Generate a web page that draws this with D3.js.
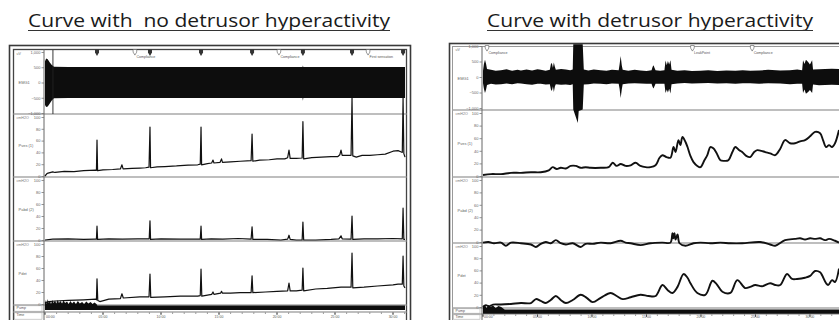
<!DOCTYPE html>
<html><head><meta charset="utf-8">
<script src="https://cdn.jsdelivr.net/npm/d3@7/dist/d3.min.js"></script>
<style>html,body{margin:0;padding:0;background:#fff}svg{display:block}</style>
</head><body>
<svg id="chart" width="839" height="320"></svg>
<script>
// ================= DATA =================
const titleLeft = "Curve with  no detrusor hyperactivity";
const titleRight = "Curve with detrusor hyperactivity";
const channelNames = ["EMG1", "Pves (1)", "Pabd (2)", "Pdet"];
const channelUnits = ["uV", "cmH2O", "cmH2O", "cmH2O"];
const extraRowNames = ["Pump", "Time"];
const emgTickValues = [1000, 500, 0, -500, -1000];
const pressureTickValues = [0, 20, 40, 60, 80, 100];
const timeTickValues = [0, 300, 600, 900, 1200, 1500, 1800];
const timeTickLabels = ["00:00", "05:00", "10:00", "15:00", "20:00", "25:00", "30:00"];
const durationLeft = 1862;   // seconds
const durationRight = 1960;  // seconds

// ---- left recording (no detrusor hyperactivity) ----
// EMG envelope: [t, upper uV, lower uV]
const emgLeft = [[0,700,-740],[6,790,-800],[14,760,-790],[24,660,-700],[34,580,-600],[46,515,-515],
  [120,510,-508],[400,508,-510],[800,510,-505],[1200,506,-510],[1332,508,-510],[1334,560,-600],
  [1336,508,-508],[1600,510,-508],[1862,510,-510]];
const cursorLeft = 41;
// Pves [t, cmH2O]
const pvesLeft = [[0,0],[10,4],[16,5],[40,7],[52,6],[100,8],[150,7.5],[200,9],[262,10],[266,9.5],[269,61],
  [272,9],[300,10.5],[350,11],[390,12],[398,19],[404,12],[450,13],[491,13.5],[520,14],[538,15],[543,83],
  [546,14],[580,15.5],[620,16],[680,17],[740,18.5],[790,19],[803,20],[807,83],[810,19],[840,21],[862,22],
  [869,27],[874,22],[905,23],[913,29],[918,23],[960,24],[1010,25],[1066,26],[1071,71],[1075,25],[1110,27],
  [1160,27.5],[1200,29],[1240,29],[1255,31],[1262,44],[1268,30],[1300,30],[1330,30.5],[1334,92],[1338,29],
  [1380,31],[1430,32],[1480,33],[1515,33],[1525,36],[1531,44],[1537,35],[1560,35],[1583,35],[1588,132],
  [1592,34],[1610,32],[1640,35],[1680,35],[1720,36],[1760,37],[1800,42],[1826,43],[1840,41],[1848,40],
  [1852,132],[1856,38],[1862,32]];
const pabdLeft = [[0,0],[40,1.5],[120,2],[200,1],[262,1.5],[266,1.5],[269,23],[272,1],[330,2],[400,1.5],
  [480,2],[539,2],[543,32],[546,1],[600,2],[700,1.5],[803,1.5],[807,23],[810,1],[860,2],[920,1.5],[1000,2.5],
  [1066,1.5],[1071,22],[1075,1],[1150,1],[1220,0],[1255,1.5],[1262,8],[1268,1],[1300,0],[1330,0],[1334,30],
  [1338,0],[1400,0],[1480,1],[1520,2],[1531,7],[1537,2],[1583,1.5],[1588,40],[1592,1],[1650,2],[1720,2],
  [1800,2.5],[1848,2],[1852,53],[1856,1],[1862,1]];
const pdetLeft = [[0,2],[20,4],[52,5],[120,6],[200,7],[262,8],[266,7],[269,42],[273,6],[284,4],[330,8],
  [390,9],[398,17],[405,10],[491,12],[538,12],[543,50],[547,11],[620,12],[700,13],[790,13],[803,14],[807,58],
  [811,13],[862,16],[869,20],[874,16],[908,18],[913,21],[918,18],[960,18],[1010,19],[1066,19],[1071,47],
  [1075,19],[1140,20],[1200,21],[1255,22],[1262,35],[1268,22],[1300,22],[1330,23],[1334,60],[1338,22],
  [1400,25],[1460,26],[1531,28],[1583,28],[1588,85],[1592,27],[1650,28],[1720,30],[1800,32],[1826,33],
  [1848,33],[1852,80],[1856,30],[1862,27]];
// pump trace envelope [t, lower, upper]
const pumpLeft = [[0,2,9],[5,2,12],[9,2,8],[14,2,13],[19,2,9],[26,2,11],[31,2,8],[38,2,12],[44,2,9],
  [52,2,11.5],[58,2,8.5],[66,2,12],[72,2,9],[80,2,11],[88,2,8.5],[96,2,11.5],[104,2,9],[114,2,10.5],
  [122,2,8],[132,2,11],[140,2,8.5],[150,2,10.5],[160,2,8],[170,2,11],[180,2,8.5],[192,2,10],[202,2,8],
  [214,2,10.5],[224,2,8.5],[236,2,10],[246,2,8],[256,2,9.5],[266,2,8],[271,2,6.5],[1862,2,6.5]];
const coughMarksLeft = [269, 543, 807, 1071, 1334, 1588, 1852];
const eventMarksLeft = [[465, "Compliance"], [1210, "Compliance"], [1671, "First sensation"]];

// ---- right recording (detrusor hyperactivity) ----
const emgRight = [[0,200,-200],[5,420,-380],[11,560,-520],[17,420,-400],[22,260,-260],[44,230,-220],
  [70,200,-240],[99,220,-230],[130,250,-210],[160,200,-230],[190,230,-200],[209,210,-210],[240,240,-230],
  [270,210,-250],[300,250,-220],[318,230,-220],[345,200,-240],[368,230,-230],[374,420,-400],[379,450,-450],
  [385,300,-300],[390,470,-480],[396,320,-300],[401,230,-230],[430,260,-250],[456,240,-240],[480,220,-260],
  [494,240,-230],[497,1060,-1050],[522,1060,-1480],[527,1060,-1100],[549,1060,-1050],[555,240,-240],
  [580,210,-230],[610,240,-210],[648,220,-220],[680,200,-230],[710,230,-210],[747,220,-220],[752,400,-380],
  [758,680,-680],[764,380,-400],[769,230,-230],[800,200,-210],[835,230,-200],[867,210,-210],[900,190,-220],
  [928,220,-220],[934,330,-320],[939,380,-370],[944,300,-300],[950,220,-220],[975,200,-220],[999,220,-220],
  [1005,530,-520],[1012,380,-400],[1018,520,-500],[1025,400,-380],[1032,540,-530],[1038,230,-230],
  [1070,200,-210],[1110,220,-190],[1150,190,-210],[1197,200,-200],[1240,220,-190],[1290,190,-210],
  [1340,210,-200],[1390,200,-220],[1430,220,-200],[1471,200,-200],[1520,210,-220],[1570,230,-200],
  [1636,210,-210],[1690,220,-230],[1730,240,-220],[1757,220,-220],[1762,540,-520],[1770,420,-400],
  [1778,560,-540],[1790,480,-480],[1800,400,-420],[1812,540,-520],[1817,240,-240],[1850,250,-270],
  [1883,260,-260],[1920,270,-250],[1960,260,-260]];
const pvesRight = [[0,1.5],[44,3],[99,3],[154,5],[209,5],[264,6],[318,6],[362,9],[384,14],[406,11],[428,13],
  [456,12],[483,16],[511,16],[538,13],[565,14],[593,13],[648,13],[692,14],[714,21],[736,16],[758,19],[785,16],
  [813,17],[840,21],[867,16],[895,14],[922,14],[950,17],[972,29],[988,33],[1010,30],[1032,29],[1049,46],
  [1060,38],[1076,57],[1087,49],[1098,62],[1115,54],[1126,46],[1142,32],[1159,22],[1180,16],[1197,14],
  [1219,25],[1235,33],[1252,46],[1268,44],[1285,37],[1307,25],[1329,24],[1351,25],[1373,38],[1389,46],
  [1411,41],[1427,38],[1449,32],[1471,30],[1493,38],[1510,41],[1532,40],[1554,38],[1581,36],[1609,33],
  [1636,43],[1663,57],[1691,52],[1718,52],[1746,55],[1773,57],[1801,63],[1828,70],[1856,68],[1872,57],
  [1889,46],[1905,49],[1922,46],[1938,52],[1960,73]];
const pabdRight = [[0,-1],[30,0],[60,-2],[99,-1],[126,-6],[154,-1],[209,-2],[264,-4],[291,-8],[318,-3],
  [346,0],[373,-2],[401,3],[428,-2],[456,-4],[494,-2],[538,-8],[565,-3],[604,-3],[648,-1],[703,-2],[758,2],
  [785,-1],[813,-2],[867,-5],[922,-2],[988,-1],[1032,-1],[1043,14],[1049,6],[1054,14],[1060,4],[1071,12],
  [1082,-2],[1115,-6],[1159,-2],[1197,-1],[1252,-2],[1307,-1],[1362,-2],[1427,-2],[1526,0],[1581,-4],
  [1609,-6],[1663,3],[1718,5],[1746,6],[1773,4],[1801,6],[1828,5],[1856,6],[1883,3],[1905,5],[1938,2],[1960,-1]];
const pdetRight = [[0,0],[16,3],[33,1],[55,4],[99,4],[154,5],[209,6.5],[264,6.5],[291,13],[318,10],[346,6.5],
  [373,11.5],[401,18],[428,11.5],[456,6.5],[494,11.5],[538,20],[571,15],[604,8],[648,15],[703,23],[736,18],
  [769,13],[813,16],[867,20],[911,18],[950,18],[988,36],[1016,28],[1043,23],[1071,33],[1104,54],[1126,48],
  [1142,39],[1180,23],[1224,20],[1263,43],[1285,38],[1318,25],[1362,23],[1400,44],[1444,31],[1471,33],
  [1499,36],[1537,34],[1581,39],[1609,36],[1636,36],[1674,54],[1702,46],[1729,46],[1773,48],[1801,51],
  [1828,59],[1856,57],[1867,52],[1889,39],[1900,36],[1922,44],[1938,41],[1960,63]];
const pumpRight = [[0,0.3,8],[10,0.3,9],[20,0.3,6],[30,0.3,9],[40,0.3,7],[55,0.3,8.5],[70,0.3,6],
  [85,0.3,8],[100,0.3,7],[115,0.3,5],[120,0.3,4.5],[1960,0.3,4.5]];
const coughMarksRight = [];
const eventMarksRight = [[22, "Compliance"], [1153, "LeakPoint"], [1482, "Compliance"]];

// ================= DRAWING =================
const svg = d3.select("#chart");
const tinyFont = "Liberation Sans, Arial, sans-serif";

function drawTitle(text, x0, x1) {
  svg.append("text").attr("x", x0).attr("y", 27).style("white-space", "pre")
    .attr("textLength", x1 - x0).attr("lengthAdjust", "spacingAndGlyphs")
    .attr("font-family", "Open Sans, sans-serif").attr("font-size", 17.5).attr("fill", "#1a1a1a").text(text);
  svg.append("line").attr("x1", x0).attr("x2", x1).attr("y1", 30.5).attr("y2", 30.5)
    .attr("stroke", "#333").attr("stroke-width", 1.2);
}

function drawPanel(L, D) {
  const g = svg.append("g");
  const x = d3.scaleLinear().domain([0, D.duration]).range(L.plot);
  // frames
  g.append("rect").attr("x", L.outer[0]).attr("y", L.outer[1]).attr("width", L.outer[2] - L.outer[0])
    .attr("height", 400).attr("fill", "#fff").attr("stroke", "#3a3a3a").attr("stroke-width", 1.6);
  g.append("rect").attr("x", L.inner[0]).attr("y", L.inner[1]).attr("width", L.inner[2] - L.inner[0])
    .attr("height", 400).attr("fill", "none").attr("stroke", L.innerStroke).attr("stroke-width", L.innerWidth);
  // row dividers
  const dividers = L.rows.map(r => r[1]).concat([L.pump[1]]);
  dividers.forEach(yv => g.append("line").attr("x1", L.inner[0]).attr("x2", L.inner[2])
    .attr("y1", yv).attr("y2", yv).attr("stroke", "#a8a8a8").attr("stroke-width", 1.4));
  // axis line
  g.append("line").attr("x1", L.axisX).attr("x2", L.axisX).attr("y1", L.inner[1]).attr("y2", 330)
    .attr("stroke", "#666").attr("stroke-width", 1);

  // y scales
  const yEmg = d3.scaleLinear().domain([-1000, 1000]).range(L.emgRange);
  const yP = L.rows.slice(1).map(r => d3.scaleLinear().domain([0, 100]).range([r[1] - 1, r[0] + 3]));
  const yPump = d3.scaleLinear().domain([0, 10]).range([L.pump[1], L.pump[1] - 10]);

  // y axes
  const axes = [[yEmg, emgTickValues]].concat(yP.map(s => [s, pressureTickValues]));
  axes.forEach(([s, vals]) => {
    const a = g.append("g").attr("transform", `translate(${L.axisX},0)`)
      .call(d3.axisLeft(s).tickValues(vals).tickSize(2.5).tickPadding(1));
    a.select(".domain").remove();
    a.selectAll("line").attr("stroke", "#777").attr("stroke-width", 0.8);
    a.selectAll("text").attr("font-size", 4).attr("font-family", tinyFont).attr("fill", "#666");
  });
  // channel labels + units
  L.rows.forEach((r, i) => {
    g.append("text").attr("x", L.inner[0] + 3).attr("y", r[0] + 4.5).attr("font-size", 3.6)
      .attr("font-family", tinyFont).attr("fill", "#777").text(channelUnits[i]);
    g.append("text").attr("x", L.inner[0] + 5).attr("y", (r[0] + r[1]) / 2 + 1.5).attr("font-size", 4)
      .attr("font-family", tinyFont).attr("fill", "#666").text(channelNames[i]);
  });
  [L.pump, L.time].forEach((r, i) => {
    g.append("rect").attr("x", L.inner[0] + 1).attr("y", r[0] + 0.8).attr("width", L.axisX - L.inner[0] - 3)
      .attr("height", Math.min(r[1], 320) - r[0] - 1.6).attr("fill", "none").attr("stroke", "#aaa").attr("stroke-width", 0.6);
    g.append("text").attr("x", L.inner[0] + 3).attr("y", Math.min(r[0] + 4.3, 318)).attr("font-size", 3.6)
      .attr("font-family", tinyFont).attr("fill", "#555").text(extraRowNames[i]);
  });

  // EMG envelope
  g.append("path").datum(D.emg).attr("fill", "#0d0d0d")
    .attr("d", d3.area().x(d => x(d[0])).y0(d => yEmg(d[2])).y1(d => yEmg(d[1])));
  if (D.cursor != null) {
    g.append("line").attr("x1", x(D.cursor)).attr("x2", x(D.cursor)).attr("y1", L.rows[0][0])
      .attr("y2", L.rows[0][1]).attr("stroke", "#222").attr("stroke-width", 0.9);
  }
  // pressure lines
  [D.pves, D.pabd, D.pdet].forEach((ser, i) => {
    g.append("path").datum(ser).attr("fill", "none").attr("stroke", "#111")
      .attr("stroke-width", L.lineWidth).attr("stroke-linejoin", "round")
      .attr("d", d3.line().curve(L.curve).x(d => x(d[0])).y(d => yP[i](d[1])));
  });
  // pump
  g.append("path").datum(D.pump).attr("fill", "#0d0d0d")
    .attr("d", d3.area().x(d => x(d[0])).y0(d => yPump(d[1])).y1(d => yPump(d[2])));

  // time axis
  const minor = d3.range(0, D.duration + 1, 60);
  minor.forEach(t => g.append("line").attr("x1", x(t)).attr("x2", x(t)).attr("y1", L.time[0] + 0.5)
    .attr("y2", L.time[0] + 2).attr("stroke", "#555").attr("stroke-width", 0.6));
  timeTickValues.forEach((t, i) => {
    g.append("line").attr("x1", x(t)).attr("x2", x(t)).attr("y1", L.time[0] + 0.5).attr("y2", L.time[0] + 3)
      .attr("stroke", "#333").attr("stroke-width", 0.8);
    g.append("text").attr("x", x(t) + (i === 0 ? 1 : 0)).attr("y", Math.min(L.time[0] + 6, 318.2))
      .attr("text-anchor", i === 0 ? "start" : "middle").attr("font-size", 3.5)
      .attr("font-family", tinyFont).attr("fill", "#555").text(timeTickLabels[i]);
  });

  // markers
  const mt = L.markerTop;
  D.coughs.forEach(t => {
    const cx = x(t);
    g.append("path").attr("d", `M${cx - 2},${mt} h4 v3 l-2,3.5 l-2,-3.5 z`).attr("fill", "#333");
  });
  D.events.forEach(([t, label]) => {
    const cx = x(t);
    g.append("path").attr("d", `M${cx - 1.8},${mt} h3.6 v2.6 l-1.8,3 l-1.8,-3 z`)
      .attr("fill", "#fff").attr("stroke", "#555").attr("stroke-width", 0.6);
    g.append("text").attr("x", cx + 1.5).attr("y", mt + 8.5).attr("font-size", 3.6)
      .attr("font-family", tinyFont).attr("fill", "#555").text(label);
  });
}

drawTitle(titleLeft, 28, 390);
drawTitle(titleRight, 487, 813);

drawPanel({
  outer: [9.5, 45.5, 410.5], inner: [13.5, 49.5, 406.5], innerStroke: "#444", innerWidth: 1.3,
  axisX: 44, plot: [45, 405],
  rows: [[50, 114], [114, 177], [177, 241], [241, 305]], pump: [305, 312], time: [312, 330],
  emgRange: [113, 52], lineWidth: 1.2, markerTop: 49.5, curve: d3.curveLinear
}, { duration: durationLeft, emg: emgLeft, cursor: cursorLeft, pves: pvesLeft, pabd: pabdLeft,
     pdet: pdetLeft, pump: pumpLeft, coughs: coughMarksLeft, events: eventMarksLeft });

drawPanel({
  outer: [449.5, 43.5, 900], inner: [452.5, 46.5, 896], innerStroke: "#999", innerWidth: 1,
  axisX: 482, plot: [483, 839],
  rows: [[46, 110], [110, 177], [177, 243], [243, 308]], pump: [308, 314], time: [314, 330],
  emgRange: [108, 46], lineWidth: 1.9, markerTop: 45.5, curve: d3.curveCatmullRom.alpha(0.5)
}, { duration: durationRight, emg: emgRight, cursor: null, pves: pvesRight, pabd: pabdRight,
     pdet: pdetRight, pump: pumpRight, coughs: coughMarksRight, events: eventMarksRight });
</script>
</body></html>
